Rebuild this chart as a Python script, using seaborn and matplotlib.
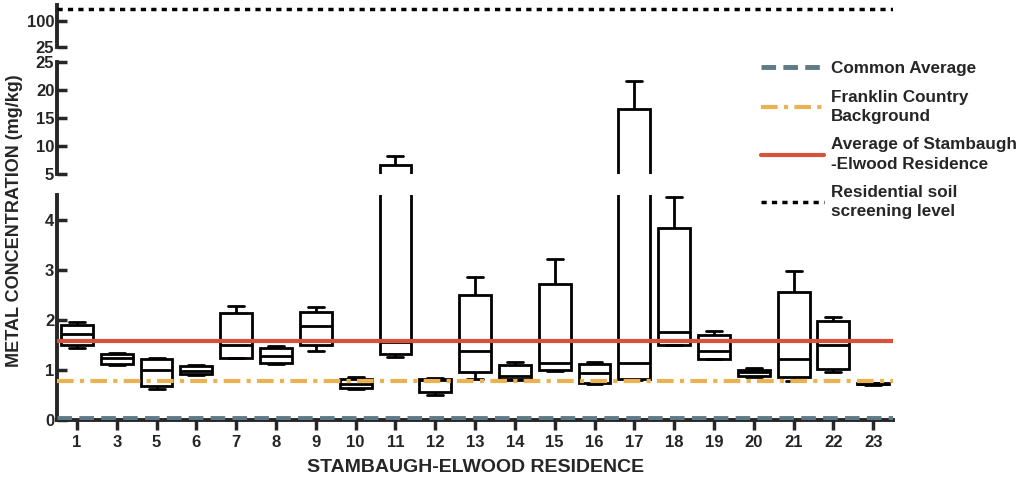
import matplotlib
matplotlib.use('Agg')
import matplotlib.pyplot as plt
from matplotlib.lines import Line2D
import seaborn as sns
import pandas as pd

# box statistics (mg/kg)
residences = ['1', '3', '5', '6', '7', '8', '9', '10', '11', '12', '13',
              '14', '15', '16', '17', '18', '19', '20', '21', '22', '23']
whisker_low = [1.44, 1.10, 0.62, 0.90, 1.23, 1.11, 1.37, 0.62, 1.26, 0.49, 0.82,
               0.80, 0.98, 0.72, 0.80, 1.49, 1.21, 0.86, 0.77, 0.96, 0.70]
q1 = [1.50, 1.12, 0.68, 0.92, 1.24, 1.13, 1.49, 0.63, 1.32, 0.55, 0.96,
      0.81, 1.00, 0.74, 0.82, 1.50, 1.22, 0.88, 0.85, 1.02, 0.71]
median = [1.72, 1.23, 1.00, 0.98, 1.49, 1.28, 1.88, 0.72, 1.55, 0.80, 1.38,
          0.88, 1.13, 0.94, 1.14, 1.76, 1.38, 0.95, 1.22, 1.49, 0.72]
q3 = [1.90, 1.32, 1.22, 1.07, 2.14, 1.43, 2.15, 0.82, 6.6, 0.82, 2.50,
      1.09, 2.72, 1.12, 16.6, 3.84, 1.70, 1.00, 2.55, 1.97, 0.73]
whisker_high = [1.96, 1.34, 1.23, 1.09, 2.28, 1.47, 2.25, 0.85, 8.2, 0.84, 2.86,
                1.15, 3.22, 1.16, 21.6, 4.46, 1.78, 1.03, 2.98, 2.05, 0.74]

common_average = 0.03
franklin_background = 0.77
stambaugh_average = 1.58
screening_level = 136

# five points per residence -> min, q1, median, q3, max
rows = []
for i, r in enumerate(residences):
    for v in (whisker_low[i], q1[i], median[i], q3[i], whisker_high[i]):
        rows.append({'residence': r, 'value': v})
df = pd.DataFrame(rows)

sns.set_style('ticks')
plt.rcParams['font.family'] = ['Liberation Sans', 'DejaVu Sans']
plt.rcParams['font.weight'] = 'bold'

fig = plt.figure(figsize=(10.24, 4.79), dpi=100)
left, width = 0.0557, 0.8165
ax_top = fig.add_axes([left, 0.9019, width, 0.0877])
ax_mid = fig.add_axes([left, 0.6367, width, 0.2338])
ax_bot = fig.add_axes([left, 0.1232, width, 0.4697])

c_common = '#5d7a86'
c_frank = '#ebb253'
c_avg = '#d6523a'

for ax, lim, ticks in [(ax_top, (25, 148), [25, 100]),
                       (ax_mid, (5, 25), [5, 10, 15, 20, 25]),
                       (ax_bot, (0, 4.5), [0, 1, 2, 3, 4])]:
    sns.boxplot(data=df, x='residence', y='value', order=residences, ax=ax,
                whis=(0, 100), width=0.8, color='white', linecolor='black',
                linewidth=2, showfliers=False)
    ax.axhline(common_average, color=c_common, lw=3.5, ls=(0, (3, 1.5)), zorder=5)
    ax.axhline(franklin_background, color=c_frank, lw=3, ls=(0, (4, 1.5, 1, 1.5)), zorder=5)
    ax.axhline(stambaugh_average, color=c_avg, lw=3, zorder=5)
    ax.axhline(screening_level, color='black', lw=2.5, ls=(0, (1.5, 1.5)), zorder=5)
    ax.set_xlim(-0.5, len(residences) - 0.5)
    ax.set_ylim(*lim)
    ax.set_yticks(ticks)
    ax.set_yticklabels([str(t) for t in ticks], fontsize=12, fontweight='bold')
    ax.tick_params(axis='y', direction='in', width=2.5, length=7, pad=2)
    ax.set_xlabel('')
    ax.set_ylabel('')
    for s in ('top', 'right'):
        ax.spines[s].set_visible(False)
    ax.spines['left'].set_linewidth(2.8)
    ax.patch.set_alpha(0)

for ax in (ax_top, ax_mid):
    ax.spines['bottom'].set_visible(False)
    ax.set_xticks([])

ax_bot.spines['bottom'].set_linewidth(2.8)
ax_bot.tick_params(axis='x', direction='out', width=2.5, length=7, labelsize=12)
for lab in ax_bot.get_xticklabels():
    lab.set_fontweight('bold')

fig.text(0.014, 0.54, 'METAL CONCENTRATION (mg/kg)', rotation=90, ha='center',
         va='center', fontsize=13, fontweight='bold')
fig.text(0.464, 0.025, 'STAMBAUGH-ELWOOD RESIDENCE', ha='center', va='center',
         fontsize=14, fontweight='bold')

handles = [Line2D([], [], color=c_common, lw=3.5, ls=(0, (3, 1.5))),
           Line2D([], [], color=c_frank, lw=3, ls=(0, (4, 1.5, 1, 1.5))),
           Line2D([], [], color=c_avg, lw=3),
           Line2D([], [], color='black', lw=2.5, ls=(0, (1.5, 1.5)))]
labels = ['Common Average', 'Franklin Country\nBackground',
          'Average of Stambaugh\n-Elwood Residence', 'Residential soil\nscreening level']
leg = fig.legend(handles, labels, loc='upper left', bbox_to_anchor=(0.728, 0.905),
                 frameon=False, handlelength=3.7, handletextpad=0.4, labelspacing=0.8,
                 prop={'size': 12.3, 'weight': 'bold'})
for t in leg.get_texts():
    t.set_linespacing(1.35)

fig.savefig('out.png', dpi=100)
